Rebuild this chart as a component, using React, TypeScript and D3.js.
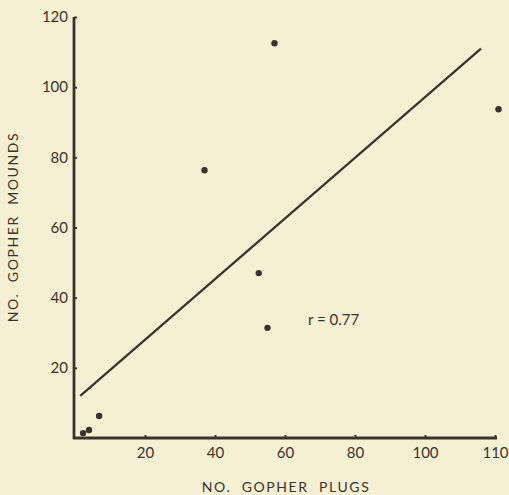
import React, { useEffect, useRef } from "react";
import * as d3 from "d3";

// plugs vs mounds
const plugs = [57, 37, 55, 52.5, 121, 2.3, 4, 6.9];
const mounds = [112.5, 76.3, 31.4, 47, 93.7, 1.4, 2.3, 6.3];

// fitted line end points
const fitX = [1.5, 116];
const fitY = [12, 111];

const yTicks = [20, 40, 60, 80, 100, 120];
const xTicks = [20, 40, 60, 80, 100, 120];
const xTickLabels = ["20", "40", "60", "80", "100", "110"];

const W = 509;
const H = 495;
const ink = "#3b332b";

const App = () => {
  const svgRef = useRef(null);

  useEffect(() => {
    const svg = d3.select(svgRef.current);
    svg.selectAll("*").remove();

    const x = d3.scaleLinear().domain([0, 120]).range([75, 495]);
    const y = d3.scaleLinear().domain([0, 120]).range([438, 17]);

    svg.append("rect").attr("width", W).attr("height", H).attr("fill", "#f5efd3");

    // axes
    const yAxis = d3
      .axisLeft(y)
      .tickValues(yTicks)
      .tickSize(-3)
      .tickSizeOuter(0)
      .tickPadding(6);
    const gy = svg.append("g").attr("transform", `translate(${x(0) - 1},0)`).call(yAxis);

    const xAxis = d3
      .axisBottom(x)
      .tickValues(xTicks)
      .tickSize(-3)
      .tickSizeOuter(0)
      .tickPadding(9)
      .tickFormat((d, i) => xTickLabels[i]);
    const gx = svg.append("g").attr("transform", `translate(0,${y(0)})`).call(xAxis);

    [gy, gx].forEach(g => {
      g.select(".domain").attr("stroke", ink).attr("stroke-width", 2.8);
      g.selectAll(".tick line").attr("stroke", ink).attr("stroke-width", 2);
      g.selectAll(".tick text")
        .attr("fill", ink)
        .attr("font-family", "Lato, 'Open Sans', sans-serif")
        .attr("font-size", 15);
    });
    gx.select(".domain").attr("d", `M${x(0) - 2},0H${x(120) + 2}`);
    gy.select(".domain").attr("d", `M0,${y(0) + 1}V${y(120)}`);

    // regression line
    svg.append("line")
      .attr("x1", x(fitX[0]))
      .attr("y1", y(fitY[0]))
      .attr("x2", x(fitX[1]))
      .attr("y2", y(fitY[1]))
      .attr("stroke", ink)
      .attr("stroke-width", 2.2);

    // points
    svg.selectAll("circle.pt")
      .data(plugs)
      .enter()
      .append("circle")
      .attr("class", "pt")
      .attr("cx", d => x(d))
      .attr("cy", (d, i) => y(mounds[i]))
      .attr("r", 3.2)
      .attr("fill", ink);

    svg.append("text")
      .attr("x", 308)
      .attr("y", 325)
      .attr("fill", ink)
      .attr("font-family", "Lato, 'Open Sans', sans-serif")
      .attr("font-size", 15)
      .text("r = 0.77");

    // axis titles
    svg.append("text")
      .attr("x", 286)
      .attr("y", 492)
      .attr("text-anchor", "middle")
      .attr("fill", ink)
      .attr("font-family", "Lato, 'Open Sans', sans-serif")
      .attr("font-size", 14)
      .attr("letter-spacing", 1.6)
      .attr("xml:space", "preserve")
      .text("NO.  GOPHER  PLUGS");

    svg.append("text")
      .attr("transform", `translate(18,227) rotate(-90)`)
      .attr("text-anchor", "middle")
      .attr("fill", ink)
      .attr("font-family", "Lato, 'Open Sans', sans-serif")
      .attr("font-size", 14)
      .attr("letter-spacing", 1.6)
      .attr("xml:space", "preserve")
      .text("NO.  GOPHER  MOUNDS");
  }, []);

  return (
    <svg
      ref={svgRef}
      width={W}
      height={H}
      style={{ position: "absolute", left: 0, top: 0 }}
    />
  );
};

export default App;
